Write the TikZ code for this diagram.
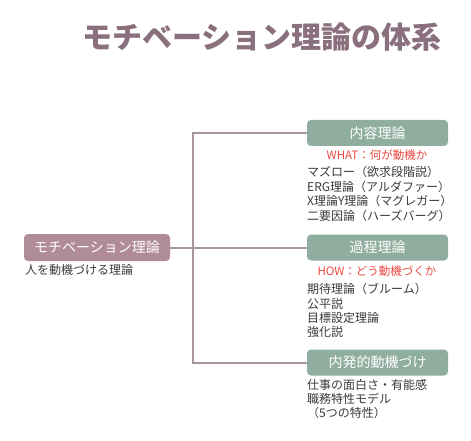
\documentclass[tikz,border=0pt]{standalone}
\usepackage{fontspec}
\setmainfont{Noto Sans CJK JP}
\definecolor{titlec}{HTML}{8A6F7D}
\definecolor{rootc}{HTML}{B08C9A}
\definecolor{boxc}{HTML}{8FAE9F}
\definecolor{linec}{HTML}{A8969C}
\definecolor{redc}{HTML}{E8473F}
\definecolor{txtc}{HTML}{3A3A3A}
\tikzset{
  rootbox/.style={fill=rootc, rounded corners=4pt, minimum width=146pt, minimum height=27pt, text=white, font=\fontsize{14}{16}\selectfont, inner sep=0pt},
  catbox/.style={fill=boxc, rounded corners=4pt, minimum width=141pt, minimum height=26pt, text=white, font=\fontsize{14}{16}\selectfont, inner sep=0pt},
  item/.style={anchor=west, text=txtc, font=\fontsize{12}{14}\selectfont, inner sep=0pt},
  redlab/.style={text=redc, font=\fontsize{11.5}{14}\selectfont, inner sep=0pt},
  conn/.style={draw=linec, line width=2pt}
}
\begin{document}
\begin{tikzpicture}[x=1pt,y=-1pt]
\useasboundingbox (0,0) rectangle (471,441);
\node[text=titlec, font=\fontsize{30}{33}\selectfont\bfseries, inner sep=0pt] (title) at (262,37) {モチベーション理論の体系};

\node[rootbox] (root) at (97,247.5) {モチベーション理論};
\node[item] (rootsub) at (25,270) {人を動機づける理論};

\node[catbox] (b1) at (377.5,133) {内容理論};
\node[catbox] (b2) at (377.5,247.5) {過程理論};
\node[catbox] (b3) at (377.5,362.5) {内発的動機づけ};

\coordinate (top) at (193,133);
\coordinate (bot) at (193,362.5);
\draw[conn] (root.east) -- (b2.west);
\draw[conn] (b1.west) -- (top) -- (bot) -- (b3.west);

\node[redlab] (r1) at (377,155) {WHAT：何が動機か};
\node[item] (l11) at (307,172) {マズロー（欲求段階説）};
\node[item] (l12) at (307,187) {ERG理論（アルダファー）};
\node[item] (l13) at (307,201) {X理論Y理論（マグレガー）};
\node[item] (l14) at (307,216) {二要因論（ハーズバーグ）};

\node[redlab] (r2) at (377,271) {HOW：どう動機づくか};
\node[item] (l21) at (307,289) {期待理論（ブルーム）};
\node[item] (l22) at (307,304) {公平説};
\node[item] (l23) at (307,318) {目標設定理論};
\node[item] (l24) at (307,332) {強化説};

\node[item] (l31) at (307,385) {仕事の面白さ・有能感};
\node[item] (l32) at (307,399) {職務特性モデル};
\node[item] (l33) at (307,413) {（5つの特性）};
\end{tikzpicture}
\end{document}
